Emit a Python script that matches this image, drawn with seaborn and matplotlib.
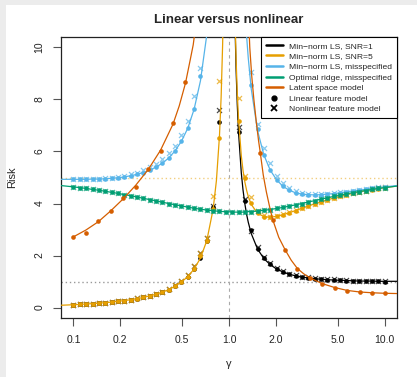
import matplotlib
matplotlib.use("Agg")
import matplotlib.pyplot as plt
from matplotlib.lines import Line2D
from matplotlib.patches import Rectangle
import seaborn as sns

sns.set_style("ticks")
plt.rcParams['font.family'] = ['Liberation Sans', 'DejaVu Sans']

nan = float('nan')

# gamma grid of the simulation points
g_pts = [0.1, 0.1099, 0.1207, 0.1326, 0.1456, 0.16, 0.1758, 0.1931, 0.2121, 0.233,
         0.256, 0.2812, 0.3089, 0.3393, 0.3728, 0.4095, 0.4498, 0.4942, 0.5429, 0.5964,
         0.6551, 0.7197, 0.7906, 0.8685, 0.9541, 1.048, 1.151, 1.265, 1.389, 1.526,
         1.677, 1.842, 2.024, 2.223, 2.442, 2.683, 2.947, 3.237, 3.556, 3.907,
         4.292, 4.715, 5.179, 5.69, 6.251, 6.866, 7.543, 8.286, 9.103, 10.0]

# gamma values of the theory curves
g_line = [0.0832, 0.1, 0.1099, 0.1207, 0.1326, 0.1456, 0.16, 0.1758, 0.1931, 0.2121,
          0.233, 0.256, 0.2812, 0.3089, 0.3393, 0.3728, 0.4095, 0.4498, 0.4942, 0.5429,
          0.5964, 0.6551, 0.7197, 0.7906, 0.83, 0.8685, 0.89, 0.91, 0.93, 0.9541,
          1.048, 1.07, 1.09, 1.11, 1.13, 1.151, 1.2, 1.23, 1.265, 1.3,
          1.33, 1.389, 1.526, 1.677, 1.842, 2.024, 2.223, 2.442, 2.683, 2.947,
          3.237, 3.556, 3.907, 4.292, 4.715, 5.179, 5.69, 6.251, 6.866, 7.543,
          8.286, 9.103, 10.0, 12.0]

# theory curves
snr5_line = [0.09, 0.11, 0.12, 0.14, 0.15, 0.17, 0.19, 0.21, 0.24, 0.27,
             0.30, 0.34, 0.39, 0.45, 0.51, 0.59, 0.69, 0.82, 0.98, 1.19,
             1.48, 1.90, 2.57, 3.78, 4.88, 6.60, 8.09, 10.11, 13.29, 20.79,
             21.06, 14.61, 11.52, 9.59, 8.27, 7.28, 5.83, 5.28, 4.82, 4.49,
             4.27, 3.97, 3.62, 3.50, 3.47, 3.51, 3.57, 3.65, 3.73, 3.82,
             3.90, 3.99, 4.06, 4.14, 4.21, 4.27, 4.33, 4.39, 4.44, 4.49,
             4.53, 4.57, 4.61, 4.67]
snr1_line = [20.88, 14.35, 11.19, 9.19, 7.81, 6.75, 5.17, 4.53, 3.98, 3.56,
             3.28, 2.85, 2.25, 1.88, 1.65, 1.48, 1.37, 1.28, 1.22, 1.17,
             1.14, 1.11, 1.09, 1.07, 1.06, 1.05, 1.04, 1.03, 1.02, 1.02,
             1.02, 1.01, 1.01, 1.01]
mis_line = [4.93, 4.93, 4.93, 4.93, 4.94, 4.94, 4.95, 4.97, 4.99, 5.02,
            5.07, 5.12, 5.19, 5.28, 5.40, 5.55, 5.75, 6.02, 6.39, 6.89,
            7.62, 8.71, 10.48, 13.74, 16.76, 21.49, 25.58, 31.16, 39.93, 60.66,
            58.10, 40.17, 31.43, 25.89, 22.06, 19.10, 14.77, 13.03, 11.52, 10.37,
            9.59, 8.42, 6.80, 5.86, 5.28, 4.91, 4.66, 4.51, 4.41, 4.36,
            4.34, 4.33, 4.34, 4.36, 4.38, 4.41, 4.45, 4.48, 4.51, 4.55,
            4.58, 4.61, 4.64, 4.69]
ridge_line = [4.69, 4.64, 4.61, 4.58, 4.54, 4.51, 4.47, 4.43, 4.39, 4.34,
              4.30, 4.25, 4.20, 4.15, 4.10, 4.05, 4.00, 3.95, 3.91, 3.86,
              3.82, 3.78, 3.75, 3.72, 3.71, 3.70, 3.70, 3.69, 3.69, 3.68,
              3.68, 3.67, 3.67, 3.67, 3.67, 3.67, 3.67, 3.67, 3.68, 3.68,
              3.69, 3.69, 3.71, 3.74, 3.77, 3.81, 3.85, 3.90, 3.95, 4.00,
              4.06, 4.11, 4.17, 4.22, 4.27, 4.32, 4.37, 4.42, 4.46, 4.50,
              4.54, 4.58, 4.61, 4.67]

# simulated risks: linear features (dots) and nonlinear features (crosses)
snr1_dot = [0.11, 0.12, 0.14, 0.15, 0.17, 0.19, 0.21, 0.24, 0.27, 0.30,
            0.34, 0.39, 0.45, 0.51, 0.59, 0.69, 0.82, 0.98, 1.19, 1.48,
            1.90, 2.57, 3.87, 7.14, nan, nan, 6.75, 4.09, 2.97, 2.25,
            1.90, 1.67, 1.49, 1.37, 1.28, 1.22, 1.17, 1.14, 1.11, 1.09,
            1.07, 1.06, 1.05, 1.04, 1.03, 1.02, 1.02, 1.01, 1.01, 1.00]
snr1_x = [0.11, 0.12, 0.14, 0.15, 0.17, 0.19, 0.21, 0.24, 0.27, 0.31,
          0.35, 0.40, 0.46, 0.53, 0.61, 0.72, 0.86, 1.04, 1.27, 1.58,
          2.08, 2.69, 3.90, 7.59, nan, nan, 6.95, 4.18, 2.93, 2.33,
          1.95, 1.72, 1.52, 1.40, 1.31, 1.24, 1.19, 1.16, 1.13, 1.11,
          1.09, 1.08, 1.06, 1.05, 1.04, 1.03, 1.03, 1.02, 1.02, 1.01]
snr5_dot = [0.11, 0.12, 0.14, 0.15, 0.17, 0.19, 0.21, 0.24, 0.27, 0.30,
            0.34, 0.39, 0.45, 0.51, 0.59, 0.69, 0.82, 0.98, 1.19, 1.48,
            1.97, 2.57, 3.78, 6.52, nan, nan, 7.17, 4.98, 4.02, 3.62,
            3.50, 3.47, 3.51, 3.57, 3.65, 3.73, 3.82, 3.90, 3.99, 4.06,
            4.14, 4.21, 4.27, 4.33, 4.39, 4.44, 4.49, 4.53, 4.57, 4.61]
snr5_x = [0.11, 0.12, 0.14, 0.15, 0.17, 0.19, 0.21, 0.24, 0.27, 0.31,
          0.35, 0.40, 0.46, 0.53, 0.61, 0.72, 0.86, 1.04, 1.27, 1.58,
          2.08, 2.69, 4.28, 8.70, nan, nan, 8.04, 5.05, 4.25, 3.72,
          3.56, 3.50, 3.53, 3.59, 3.67, 3.75, 3.84, 3.92, 4.00, 4.07,
          4.15, 4.22, 4.28, 4.34, 4.40, 4.45, 4.50, 4.54, 4.58, 4.62]
mis_dot = [4.93, 4.93, 4.93, 4.94, 4.94, 4.95, 4.97, 4.99, 5.02, 5.07,
           5.12, 5.19, 5.28, 5.40, 5.55, 5.75, 6.02, 6.39, 6.89, 7.62,
           8.90, nan, nan, nan, nan, nan, nan, nan, 8.55, 6.85,
           5.86, 5.28, 4.91, 4.66, 4.51, 4.41, 4.36, 4.34, 4.33, 4.34,
           4.36, 4.38, 4.41, 4.45, 4.48, 4.51, 4.55, 4.58, 4.61, 4.64]
mis_x = [4.93, 4.93, 4.94, 4.95, 4.96, 4.98, 5.00, 5.03, 5.07, 5.13,
         5.19, 5.28, 5.39, 5.52, 5.70, 5.93, 6.22, 6.62, 7.18, 8.14,
         9.20, nan, nan, nan, nan, nan, nan, nan, 9.06, 7.04,
         6.12, 5.54, 5.05, 4.78, 4.60, 4.48, 4.42, 4.38, 4.37, 4.37,
         4.38, 4.40, 4.43, 4.46, 4.49, 4.52, 4.56, 4.59, 4.62, 4.65]
ridge_pts = [4.64, 4.61, 4.58, 4.54, 4.51, 4.47, 4.43, 4.39, 4.34, 4.30,
             4.25, 4.20, 4.15, 4.10, 4.05, 4.00, 3.95, 3.91, 3.86, 3.82,
             3.78, 3.75, 3.72, 3.70, 3.68, 3.68, 3.67, 3.68, 3.69, 3.71,
             3.74, 3.77, 3.81, 3.85, 3.90, 3.95, 4.00, 4.06, 4.11, 4.17,
             4.22, 4.27, 4.32, 4.37, 4.42, 4.46, 4.50, 4.54, 4.58, 4.61]

# latent space model
lat_g = [0.1, 0.1202, 0.1445, 0.1738, 0.2089, 0.2512, 0.302, 0.3631, 0.4365, 0.5248,
         1.585, 1.905, 2.291, 2.754, 3.311, 3.981, 4.786, 5.754, 6.918, 8.318, 10.0]
lat_pts = [2.72, 2.88, 3.33, 3.72, 4.22, 4.64, 5.31, 6.02, 7.08, 8.68,
           5.95, 3.38, 2.23, 1.50, 1.14, 0.92, 0.77, 0.64, 0.60, 0.58, 0.56]
lat_left_g = [0.1, 0.1202, 0.1445, 0.1738, 0.2089, 0.2512, 0.302, 0.3631, 0.4365, 0.4786,
              0.5248, 0.5623, 0.5888, 0.61]
lat_left = [2.72, 2.98, 3.30, 3.72, 4.18, 4.70, 5.30, 6.05, 7.05, 7.75,
            8.62, 9.5, 10.1, 10.8]
lat_right_g = [1.33, 1.36, 1.40, 1.445, 1.50, 1.55, 1.585, 1.66, 1.738, 1.82,
               1.905, 2.089, 2.291, 2.512, 2.754, 3.02, 3.311, 3.981, 4.786, 5.754,
               6.918, 8.318, 10.0, 12.0]
lat_right = [11.5, 10.0, 8.9, 8.0, 7.1, 6.4, 6.0, 5.1, 4.45, 3.9,
             3.4, 2.7, 2.23, 1.82, 1.50, 1.30, 1.14, 0.92, 0.77, 0.66,
             0.60, 0.57, 0.55, 0.54]

labels = ['Min\u2212norm LS, SNR=1', 'Min\u2212norm LS, SNR=5', 'Min\u2212norm LS, misspecified',
          'Optimal ridge, misspecified', 'Latent space model', 'Linear feature model',
          'Nonlinear feature model']
colors = ['#000000', '#E69F00', '#56B4E9', '#009E73', '#D55E00']

fig = plt.figure(figsize=(4.17, 3.77), dpi=100)
fig.patch.set_facecolor('#ececec')
fig.patches.append(Rectangle((6 / 417, 0), 1, 372 / 377, transform=fig.transFigure,
                             facecolor='white', edgecolor='none', zorder=-10))
ax = fig.add_axes([61 / 417, 59 / 377, 336 / 417, 281 / 377])
ax.set_xscale('log')

ax.axhline(1, color='#999999', ls=(0, (1, 2)), lw=1.0, zorder=1)
ax.axhline(5, color='#E69F00', alpha=0.5, ls=(0, (1, 2)), lw=1.0, zorder=1)
ax.axvline(1, color='#aaaaaa', ls=(0, (3, 3)), lw=0.8, zorder=1)

g_right = [g for g in g_line if g > 1]
series = [(g_right, snr1_line, snr1_dot, snr1_x),
          (g_line, snr5_line, snr5_dot, snr5_x),
          (g_line, mis_line, mis_dot, mis_x),
          (g_line, ridge_line, ridge_pts, ridge_pts)]
for i, (gx, line, dots, crosses) in enumerate(series):
    z = 3 + i
    sns.lineplot(x=gx, y=line, color=colors[i], lw=0.9, ax=ax, estimator=None, sort=False, zorder=z)
    sns.scatterplot(x=g_pts, y=dots, color=colors[i], marker='o', s=11, linewidth=0, ax=ax, zorder=z)
    sns.scatterplot(x=g_pts, y=crosses, color=colors[i], marker='x', s=13, linewidth=0.9,
                    alpha=0.7, ax=ax, zorder=z)

sns.lineplot(x=lat_left_g, y=lat_left, color=colors[4], lw=0.9, ax=ax, estimator=None, sort=False, zorder=8)
sns.lineplot(x=lat_right_g, y=lat_right, color=colors[4], lw=0.9, ax=ax, estimator=None, sort=False, zorder=8)
sns.scatterplot(x=lat_g, y=lat_pts, color=colors[4], marker='o', s=11, linewidth=0, ax=ax, zorder=8)

ax.set_xlim(10 ** -1.08, 10 ** 1.08)
ax.set_ylim(-0.4, 10.4)
ax.set_xticks([0.1, 0.2, 0.5, 1, 2, 5, 10])
ax.set_xticklabels(['0.1', '0.2', '0.5', '1.0', '2.0', '5.0', '10.0'])
ax.minorticks_off()
ax.set_yticks([0, 2, 4, 6, 8, 10])
ax.set_yticklabels(['0', '2', '4', '6', '8', '10'], rotation=90, va='center')
ax.tick_params(direction='out', length=6, width=0.8, color='#555555', labelsize=7.5,
               labelcolor='#222222', pad=6)
for s in ax.spines.values():
    s.set_visible(True)
    s.set_linewidth(0.9)
    s.set_color('#222222')

ax.set_xlabel('γ', fontsize=8)
ax.set_ylabel('Risk', fontsize=8)
ax.xaxis.set_label_coords(0.5, -0.145)
ax.yaxis.set_label_coords(-0.131, 0.5)
fig.text(229 / 417, 1 - 20 / 377, 'Linear versus nonlinear', ha='center', va='center',
         fontsize=9.5, fontweight='bold')

handles = [Line2D([], [], color=c, lw=1.8) for c in colors]
handles += [Line2D([], [], ls='none', marker='o', color='black', markersize=3.5),
            Line2D([], [], ls='none', marker='x', color='black', markersize=4.5, mew=1.3)]
leg = ax.legend(handles, labels, loc='upper right', borderaxespad=0, fontsize=6.1, frameon=True,
                fancybox=False, edgecolor='black', framealpha=1, handlelength=2.0,
                handletextpad=0.8, labelspacing=0.32, borderpad=0.55)
leg.get_frame().set_linewidth(0.8)
leg.set_zorder(20)

fig.savefig('out.png', dpi=100, facecolor=fig.get_facecolor())
